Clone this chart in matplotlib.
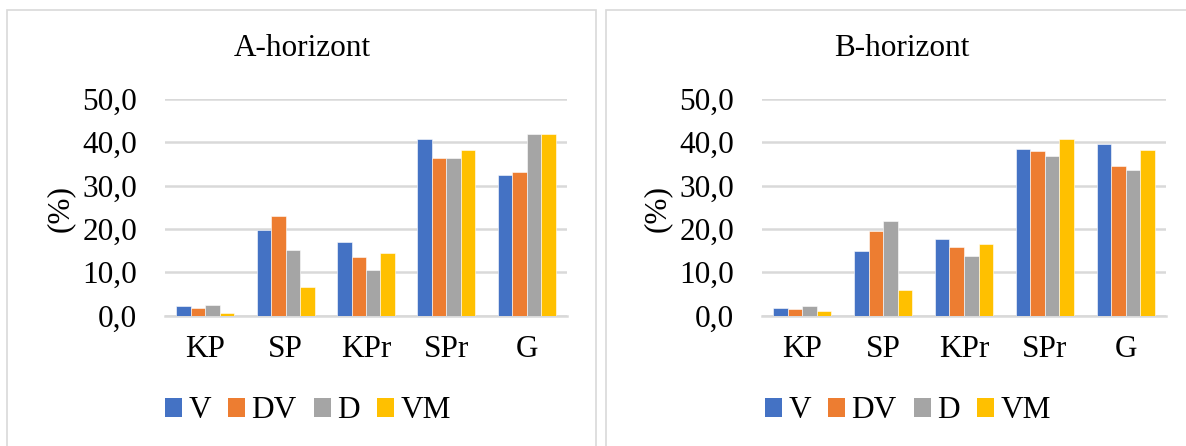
import matplotlib
matplotlib.use("Agg")
import matplotlib.pyplot as plt
from matplotlib.patches import Rectangle, Patch
import numpy as np

plt.rcParams['font.family'] = ['Liberation Serif', 'DejaVu Serif']

kategorije = ["KP", "SP", "KPr", "SPr", "G"]
serije = ["V", "DV", "D", "VM"]
boje = ["#4472C4", "#ED7D31", "#A5A5A5", "#FFC000"]

# udio frakcija (%) po horizontima
a_horizont = {
    "V":  [2.2, 19.8, 17.0, 40.8, 32.5],
    "DV": [1.7, 23.0, 13.6, 36.4, 33.2],
    "D":  [2.4, 15.2, 10.5, 36.3, 41.9],
    "VM": [0.5, 6.6, 14.5, 38.2, 42.0],
}
b_horizont = {
    "V":  [1.8, 14.8, 17.6, 38.4, 39.6],
    "DV": [1.5, 19.4, 15.8, 38.0, 34.5],
    "D":  [2.3, 21.8, 13.8, 36.8, 33.6],
    "VM": [1.1, 5.8, 16.5, 40.7, 38.2],
}
naslovi = ["A-horizont", "B-horizont"]
yticks = [0, 10, 20, 30, 40, 50]

W, H = 1186, 446
fig = plt.figure(figsize=(W / 100, H / 100), dpi=100)

siva = "#d9d9d9"
fs = 22.5

# okviri oko dva grafa (u pikselima), osi unutar njih i sredine za naslov/legendu
okviri = [(7, 596), (606, 1194)]
osi = [(165, 567), (762, 1166)]
sredine = [308, 908]
dno, vrh = 315.5, 99
x = np.arange(len(kategorije))
sirina = 0.18

for x0, x1 in okviri:
    fig.patches.append(Rectangle((x0 / W, -0.1), (x1 - x0) / W, (H - 10) / H + 0.1,
                                 transform=fig.transFigure, fill=False,
                                 edgecolor=siva, linewidth=1.2))

for (px0, px1), sredina, podaci, naslov in zip(osi, sredine, [a_horizont, b_horizont], naslovi):
    ax = fig.add_axes([px0 / W, (H - dno) / H, (px1 - px0) / W, (dno - vrh) / H])
    for i, (s, c) in enumerate(zip(serije, boje)):
        ax.bar(x + (i - 1.5) * sirina, podaci[s], sirina, color=c,
               edgecolor="white", linewidth=0.4, zorder=3)
    ax.set_xlim(-0.5, len(kategorije) - 0.5)
    ax.set_ylim(0, 50)
    ax.set_yticks(yticks)
    ax.set_yticklabels([f"{v:.1f}".replace(".", ",") for v in yticks], fontsize=fs)
    ax.set_xticks(x)
    ax.set_xticklabels(kategorije, fontsize=fs)
    ax.tick_params(axis="y", length=0, pad=20)
    ax.tick_params(axis="x", length=0, pad=14)
    ax.grid(axis="y", color=siva, linewidth=1.8, zorder=0)
    for sp in ["top", "right", "left"]:
        ax.spines[sp].set_visible(False)
    ax.spines["bottom"].set_color(siva)
    ax.spines["bottom"].set_linewidth(1.8)
    ax.set_facecolor("none")

    fig.text(sredina / W - 6 / W, 1 - 48 / H, naslov, ha="center", va="center", fontsize=fs)
    fig.text((px0 - 105) / W, 1 - 208 / H, "(%)", rotation=90, ha="center",
             va="center", fontsize=fs)

    rucke = [Patch(facecolor=c) for c in boje]
    fig.legend(rucke, serije, loc="center", bbox_to_anchor=(sredina / W, 1 - 411 / H),
               ncol=4, frameon=False, fontsize=fs, handlelength=0.55, handleheight=0.55,
               handletextpad=0.2, columnspacing=0.55, borderaxespad=0)

fig.savefig("out.png", dpi=100)
